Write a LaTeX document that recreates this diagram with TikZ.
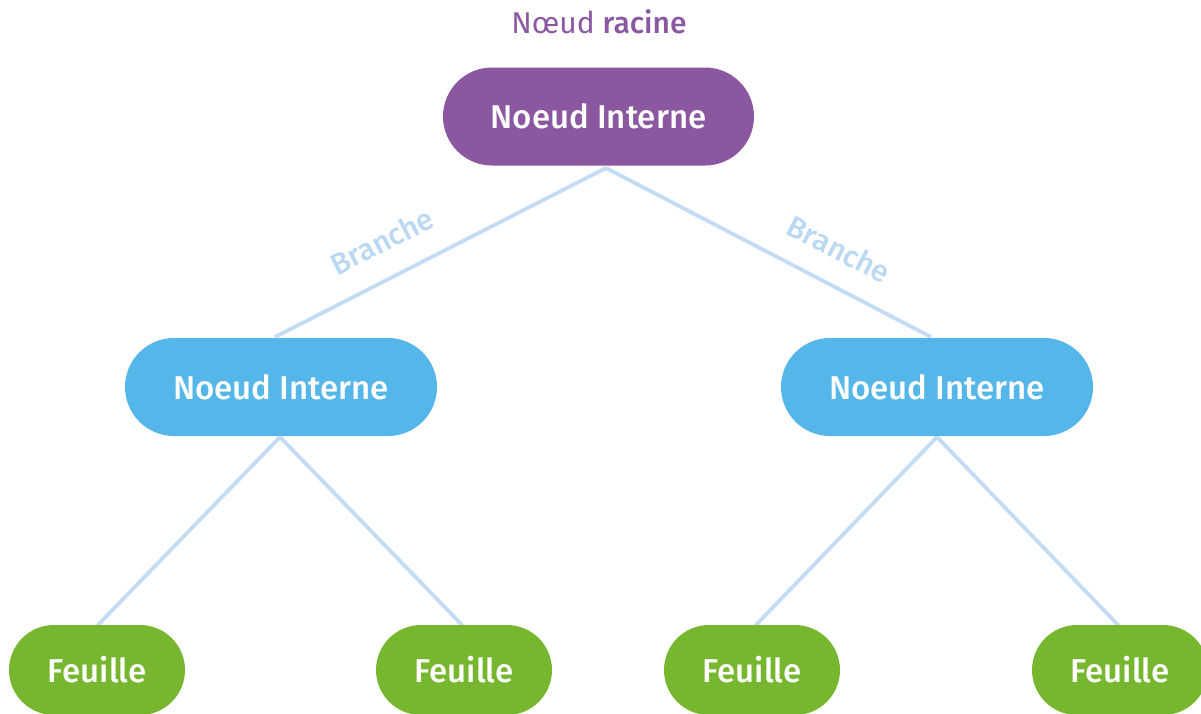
\documentclass[tikz,border=0pt]{standalone}
\usepackage{fontspec}
\setmainfont{Fira Sans}[BoldFont={Fira Sans Medium}]
\definecolor{rootc}{HTML}{8A57A0}
\definecolor{midc}{HTML}{55B7E9}
\definecolor{leafc}{HTML}{76B72F}
\definecolor{edgec}{HTML}{C3DBF3}
\begin{document}
\begin{tikzpicture}[x=1pt,y=-1pt,
  pill/.style={rounded corners=49pt, minimum height=98pt, text=white, inner sep=0pt,
     font=\fontsize{33}{38}\selectfont\bfseries},
  rootbox/.style={pill, fill=rootc, minimum width=311pt},
  midbox/.style={pill, fill=midc, minimum width=312pt},
  leafbox/.style={pill, fill=leafc, minimum width=176pt, rounded corners=45pt, minimum height=90pt},
  edge/.style={draw=edgec, line width=3.8pt},
  brlabel/.style={text=edgec!92!midc, font=\fontsize{30}{34}\selectfont\bfseries}]
\useasboundingbox (0,0) rectangle (1201,713);
\clip (0,0) rectangle (1201,713);
\node[text=rootc, font=\fontsize{30}{34}\selectfont] (title) at (599,22) {Nœud \textbf{racine}};
\coordinate (rb) at (606,168);
\coordinate (lt) at (275,337);
\coordinate (rt) at (931,337);
\coordinate (lb) at (280,437);
\coordinate (rbm) at (937,437);
\coordinate (l1) at (96,627);
\coordinate (l2) at (464,627);
\coordinate (l3) at (754,627);
\coordinate (l4) at (1120,627);
\draw[edge] (rb) -- (lt);
\draw[edge] (rb) -- (rt);
\draw[edge] (lb) -- (l1);
\draw[edge] (lb) -- (l2);
\draw[edge] (rbm) -- (l3);
\draw[edge] (rbm) -- (l4);
\node[rootbox] (root) at (598.5,116.5) {Noeud Interne};
\node[midbox] (left) at (281,387) {Noeud Interne};
\node[midbox] (right) at (937,387) {Noeud Interne};
\node[leafbox] (f1) at (97,670) {Feuille};
\node[leafbox] (f2) at (464,670) {Feuille};
\node[leafbox] (f3) at (752,670) {Feuille};
\node[leafbox] (f4) at (1120,670) {Feuille};
\node[brlabel, rotate=27] (b1) at (382,241) {Branche};
\node[brlabel, rotate=-27] (b2) at (839,249) {Branche};
\end{tikzpicture}
\end{document}
